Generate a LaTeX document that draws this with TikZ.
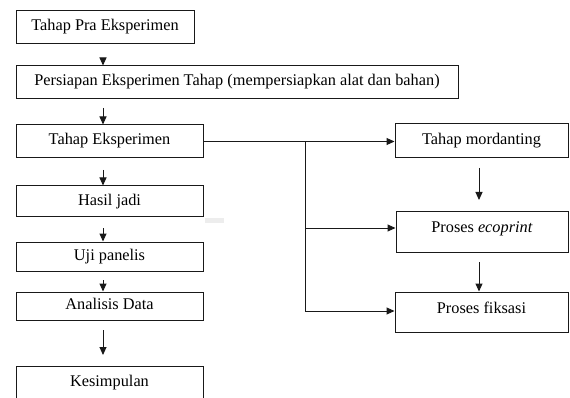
\documentclass[tikz,border=0pt]{standalone}
\usepackage{fontspec}
\setmainfont{Liberation Serif}
\usetikzlibrary{arrows.meta,calc}
\begin{document}
\begin{tikzpicture}[x=1pt,y=-1pt,
  box/.style={draw=black!90,line width=1pt,inner sep=0pt,align=center,
    text height=11pt,text depth=4pt,
    font=\fontsize{16.3}{19}\selectfont},
  raised/.style={text depth=9pt},
  arr/.style={line width=1pt,draw=black!90,-{Triangle[length=8pt,width=7pt]}},
  conn/.style={line width=1pt,draw=black!90}]
\useasboundingbox (0,0) rectangle (570,398);
\clip (0,0) rectangle (570,398);
% left column
\node[box,minimum width=178pt,minimum height=33pt] (b1) at (105,27.5) {Tahap Pra Eksperimen};
\node[box,minimum width=442pt,minimum height=33pt] (b2) at (237,82.5) {Persiapan Eksperimen Tahap (mempersiapkan alat dan bahan)};
\node[box,minimum width=187pt,minimum height=33pt] (b3) at (109.5,141.5) {Tahap Eksperimen};
\node[box,minimum width=187pt,minimum height=31pt] (b4) at (109.5,201.5) {Hasil jadi};
\node[box,minimum width=187pt,minimum height=29pt] (b5) at (109.5,256.5) {Uji panelis};
\node[box,minimum width=187pt,minimum height=28pt] (b6) at (109.5,306) {Analisis Data};
\node[box,minimum width=187pt,minimum height=34pt] (b7) at (109.5,383) {Kesimpulan};
% right column
\node[box,minimum width=173pt,minimum height=34pt] (r1) at (481.5,141) {Tahap mordanting};
\node[box,raised,minimum width=172pt,minimum height=40pt] (r2) at (482,232) {Proses \textit{ecoprint}};
\node[box,raised,minimum width=173pt,minimum height=40pt] (r3) at (481.5,312) {Proses fiksasi};
% faint mark
\fill[black!7] (205,218) rectangle (224,223);
% arrow start points
\coordinate (s1) at (103,58);
\coordinate (s2) at (103,108);
\coordinate (s3) at (103,170);
\coordinate (s4) at (103,228);
\coordinate (s5) at (103,280);
\coordinate (s6) at (103,330);
\coordinate (e6) at (103,355);
\coordinate (s7) at (479,168);
\coordinate (e7) at (479,200);
\coordinate (s8) at (479,262);
\coordinate (j) at (305,141.5);
\coordinate (j2) at (305,228);
\coordinate (j3) at (305,311);
\draw[arr] (s1) -- (s1 |- b2.north);
\draw[arr] (s2) -- (s2 |- b3.north);
\draw[arr] (s3) -- (s3 |- b4.north);
\draw[arr] (s4) -- (s4 |- b5.north);
\draw[arr] (s5) -- (s5 |- b6.north);
\draw[arr] (s6) -- (e6);
\draw[arr] (s7) -- (e7);
\draw[arr] (s8) -- (s8 |- r3.north);
% branches
\draw[conn] (b3.east) -- (j);
\draw[arr] (j) -- (r1.west |- j);
\draw[conn] (j) -- (j3);
\draw[arr] (j2) -- (j2 -| r2.west);
\draw[arr] (j3) -- (j3 -| r3.west);
\end{tikzpicture}
\end{document}
